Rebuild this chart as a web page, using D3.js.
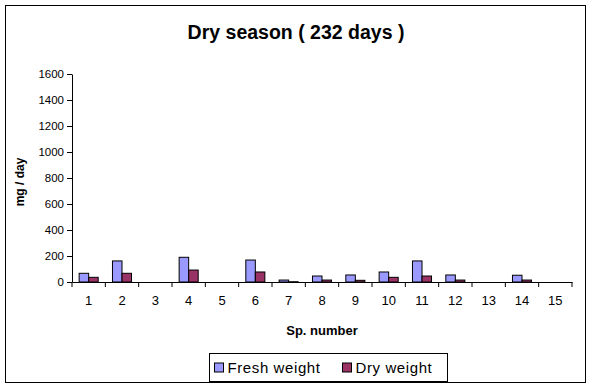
<!DOCTYPE html>
<html>
<head>
<meta charset="utf-8">
<script src="https://cdn.jsdelivr.net/npm/d3@7/dist/d3.min.js"></script>
<style>
  body { margin: 0; background: #fff; }
  svg { display: block; font-family: Arial, "Liberation Sans", sans-serif; }
</style>
</head>
<body>
<script>
const width = 592;
const height = 390;
const margin = { top: 74, right: 20, bottom: 108, left: 72 };

// data
const species = ['1','2','3','4','5','6','7','8','9','10','11','12','13','14','15'];
const freshWeight = [67, 162, 0, 190, 0, 169, 15, 46, 54, 77, 162, 54, 0, 52, 0];
const dryWeight   = [36, 67, 0, 92, 0, 77, 2, 15, 13, 36, 46, 15, 0, 15, 0];
const seriesNames = ['Fresh weight', 'Dry weight'];
const seriesColors = ['#9999ff', '#993366'];
const yTicks = [0, 200, 400, 600, 800, 1000, 1200, 1400, 1600];

const chartWidth = 500;
const chartHeight = 208;

const svg = d3.select('body')
    .append('svg')
    .attr('width', width)
    .attr('height', height);

// 外枠
svg.append('rect')
    .attr('x', 5.5).attr('y', 5.5)
    .attr('width', 580).attr('height', 377)
    .attr('fill', '#fff')
    .attr('stroke', '#000')
    .attr('stroke-width', 1);

// title
svg.append('text')
    .attr('x', 296)
    .attr('y', 39)
    .attr('text-anchor', 'middle')
    .attr('font-size', 19.5)
    .attr('font-weight', 'bold')
    .text('Dry season ( 232 days )');

const g = svg.append('g')
    .attr('transform', `translate(${margin.left}, ${margin.top})`);

const xScale = d3.scaleBand()
    .domain(species)
    .range([0, chartWidth]);

const gap = xScale.bandwidth() * 1.5 / 3.5 / 2;
const inner = d3.scaleBand()
    .domain(seriesNames)
    .range([gap, xScale.bandwidth() - gap]);

const yScale = d3.scaleLinear()
    .domain([0, 1600])
    .range([chartHeight, 0]);

// bars
const rows = species.map((s, i) => ({ s, vals: [freshWeight[i], dryWeight[i]] }));
const groups = g.selectAll('g.grp')
    .data(rows)
    .enter().append('g')
    .attr('class', 'grp')
    .attr('transform', d => `translate(${xScale(d.s)}, 0)`);

groups.selectAll('rect')
    .data(d => d.vals.map((v, k) => ({ v, k })).filter(e => e.v > 0))
    .enter().append('rect')
    .attr('x', d => inner(seriesNames[d.k]))
    .attr('y', d => yScale(d.v))
    .attr('width', inner.bandwidth())
    .attr('height', d => chartHeight - yScale(d.v))
    .attr('fill', d => seriesColors[d.k])
    .attr('stroke', '#000')
    .attr('stroke-width', 1);

// y axis
const yAxis = g.append('g')
    .call(d3.axisLeft(yScale).tickValues(yTicks).tickFormat(d3.format('d')).tickSize(5).tickSizeOuter(0));
yAxis.selectAll('text').attr('font-size', 11.5).attr('font-family', 'Arial, "Liberation Sans", sans-serif').attr('x', -8);

// x axis
const xAxis = g.append('g')
    .attr('transform', `translate(0, ${chartHeight})`)
    .call(d3.axisBottom(xScale).tickSize(0).tickSizeOuter(0));
xAxis.selectAll('text').attr('font-size', 13).attr('font-family', 'Arial, "Liberation Sans", sans-serif').attr('dy', '1.5em');
// tick marks at category boundaries
xAxis.selectAll('line.sep')
    .data(species.concat(['end']))
    .enter().append('line')
    .attr('class', 'sep')
    .attr('x1', (d, i) => i < species.length ? xScale(d) : chartWidth)
    .attr('x2', (d, i) => i < species.length ? xScale(d) : chartWidth)
    .attr('y1', 0).attr('y2', 5)
    .attr('stroke', '#000');
g.selectAll('.domain').attr('stroke', '#000');

// axis titles
svg.append('text')
    .attr('x', margin.left + chartWidth / 2)
    .attr('y', 335)
    .attr('text-anchor', 'middle')
    .attr('font-size', 13)
    .attr('font-weight', 'bold')
    .text('Sp. number');

svg.append('text')
    .attr('transform', `translate(24, ${margin.top + chartHeight / 2 + 4}) rotate(-90)`)
    .attr('text-anchor', 'middle')
    .attr('font-size', 12)
    .attr('font-weight', 'bold')
    .text('mg / day');

// legend
const legend = svg.append('g').attr('transform', 'translate(209.5, 353.5)');
legend.append('rect')
    .attr('width', 238).attr('height', 28)
    .attr('fill', '#fff').attr('stroke', '#000');
const legendX = [5, 133];
seriesNames.forEach((name, i) => {
    legend.append('rect')
        .attr('x', legendX[i]).attr('y', 9.5)
        .attr('width', 9).attr('height', 9)
        .attr('fill', seriesColors[i]).attr('stroke', '#000');
    legend.append('text')
        .attr('x', legendX[i] + 13).attr('y', 19.5)
        .attr('font-size', 15)
        .attr('letter-spacing', 0.6)
        .text(name);
});
</script>
</body>
</html>
